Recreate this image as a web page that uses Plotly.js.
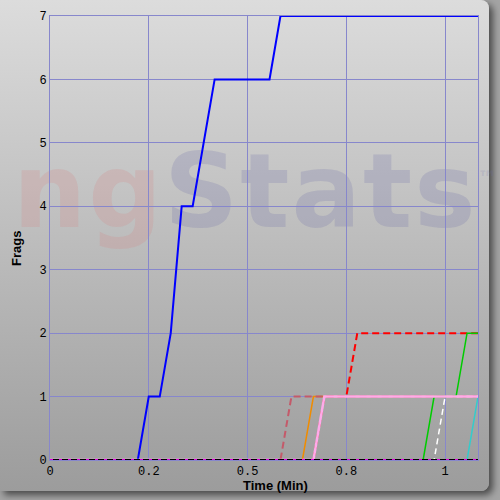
<!DOCTYPE html>
<html>
<head>
<meta charset="utf-8">
<script src="https://cdn.plot.ly/plotly-3.0.1.min.js"></script>
<style>
  body { margin: 0; background: #a8a8a8; }
  #wrap { position: relative; width: 500px; height: 500px; overflow: hidden; background: #a4a4a4; }
  #panel {
    position: absolute; left: 0; top: 0; width: 489px; height: 491px;
    border-radius: 0 8px 8px 0;
    background: linear-gradient(#dcdcdc, #9c9c9c);
    box-shadow: 4px 4px 7px rgba(0,0,0,0.55);
  }
  #wm {
    position: absolute; left: 13px; top: 127px;
    font-family: "DejaVu Sans", sans-serif; font-weight: bold;
    font-size: 103px; line-height: 103px; white-space: nowrap; letter-spacing: 2px;
  }
  #wm .ng { color: rgba(215, 130, 130, 0.22); }
  #wm .st { color: rgba(110, 110, 170, 0.22); }
  #wm sup { font-size: 20px; color: rgba(110, 110, 170, 0.18); vertical-align: 42px; letter-spacing: 0; }
  #chart { position: absolute; left: 0; top: 0; width: 500px; height: 500px; }
</style>
</head>
<body>
<div id="wrap">
  <div id="panel"></div>
  <div id="wm"><span class="ng">ng</span><span class="st">Stats</span><sup>™</sup></div>
  <div id="chart"></div>
</div>
<script>
// Frag timelines (time in minutes, cumulative frags)
const tEnd = 1.0833;

const blueT = [0, 0.2222, 0.25, 0.2778, 0.3056, 0.3333, 0.3611, 0.4167, 0.5556, 0.5833, tEnd];
const blueF = [0, 0, 1, 1, 2, 4, 4, 6, 6, 7, 7];

const redT = [0, 0.6667, 0.6944, 0.75, 0.7778, tEnd];
const redF = [0, 0, 1, 1, 2, 2];

const orangeT = [0, 0.6389, 0.6667, tEnd];
const orangeF = [0, 0, 1, 1];

const indianT = [0, 0.5833, 0.6111, tEnd];
const indianF = [0, 0, 1, 1];

const greenT = [0, 0.9444, 0.9722, 1.0278, 1.0556, tEnd];
const greenF = [0, 0, 1, 1, 2, 2];

const whiteT = [0, 0.9722, 1.0, tEnd];
const whiteF = [0, 0, 1, 1];

const cyanT = [0, 1.0556, tEnd];
const cyanF = [0, 0, 1];

const pinkT = [0, 0.6667, 0.6944, tEnd];
const pinkF = [0, 0, 1, 1];

const blackT = [0, tEnd];
const blackF = [0, 0];

const magentaT = [0, tEnd];
const magentaF = [0, 0];

// Axis ticks
const xTickVals = [0, 0.25, 0.5, 0.75, 1];
const xTickText = ['0', '0.2', '0.5', '0.8', '1'];
const yTickVals = [0, 1, 2, 3, 4, 5, 6, 7];

function line(x, y, color, width, dash) {
    return {
        x: x, y: y, type: 'scatter', mode: 'lines',
        line: { color: color, width: width, dash: dash || 'solid' },
        hoverinfo: 'skip'
    };
}

const traces = [
    line(blueT, blueF, '#0000ff', 2),
    line(redT, redF, '#ff0000', 2, '7px,4px'),
    line(orangeT, orangeF, '#f08c00', 1.5),
    line(indianT, indianF, '#c45a6a', 2, '7px,4px'),
    line(greenT, greenF, '#00cc00', 1.5),
    line(whiteT, whiteF, '#ffffff', 1.5, '6px,4px'),
    line(cyanT, cyanF, '#33cccc', 1.5),
    line(pinkT, pinkF, '#ffaaea', 2.5),
    line(blackT, blackF, '#000000', 2),
    line(magentaT, magentaF, '#e000e0', 2, '3px,6px')
];

const gridCol = '#8787cc';
const tickFont = { family: 'Liberation Mono, monospace', size: 12, color: '#000' };
const titleFont = { family: 'Liberation Sans, Arial, sans-serif', size: 13, weight: 'bold', color: '#000' };

const layout = {
    width: 500, height: 500,
    margin: { l: 50, r: 22, t: 16, b: 40 },
    paper_bgcolor: 'rgba(0,0,0,0)',
    plot_bgcolor: 'rgba(0,0,0,0)',
    showlegend: false,
    xaxis: {
        range: [0, tEnd], tickvals: xTickVals, ticktext: xTickText,
        showgrid: true, gridcolor: gridCol, gridwidth: 1,
        showline: true, linecolor: gridCol, mirror: true,
        zeroline: false, ticks: '', tickfont: tickFont
    },
    yaxis: {
        range: [0, 7], tickvals: yTickVals,
        showgrid: true, gridcolor: gridCol, gridwidth: 1,
        showline: true, linecolor: gridCol, mirror: true,
        zeroline: false, ticks: '', tickfont: tickFont
    },
    annotations: [
        {
            text: 'Time (Min)', xref: 'paper', yref: 'paper',
            x: (275 - 50) / 428, y: -25 / 444, xanchor: 'center', yanchor: 'middle',
            showarrow: false, font: titleFont
        },
        {
            text: 'Frags', xref: 'paper', yref: 'paper', textangle: -90,
            x: -34 / 428, y: (460 - 249) / 444, xanchor: 'center', yanchor: 'middle',
            showarrow: false, font: titleFont
        }
    ]
};

Plotly.newPlot('chart', traces, layout, { displayModeBar: false, staticPlot: true });
</script>
</body>
</html>
